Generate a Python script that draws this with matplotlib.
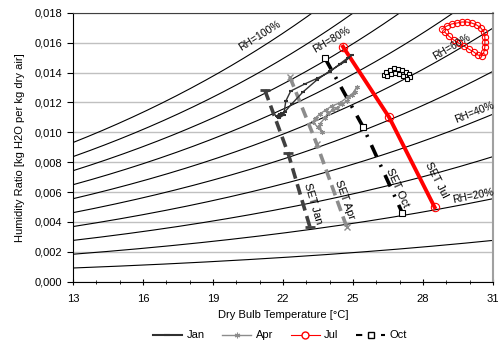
import numpy as np
import matplotlib
matplotlib.use("Agg")
import matplotlib.pyplot as plt
from matplotlib.ticker import FuncFormatter, MultipleLocator, FixedLocator
from matplotlib.lines import Line2D

plt.rcParams['font.family'] = ['Liberation Sans', 'DejaVu Sans']

# hourly points per month (dry bulb [C], humidity ratio [kg/kg])
jan_t = [21.77, 21.86, 21.73, 21.95, 21.82, 22.03, 22.12, 22.33, 22.93, 23.49, 24.00,
         24.43, 24.77, 24.95, 24.64, 24.00, 23.45, 22.85, 22.37, 22.07, 21.86]
jan_w = [0.01102, 0.01122, 0.01109, 0.01129, 0.01095, 0.01115, 0.01209, 0.01276, 0.01323,
         0.01363, 0.01403, 0.01457, 0.01497, 0.01517, 0.01471, 0.01410, 0.01350, 0.01269,
         0.01189, 0.01135, 0.01109]

apr_t = [23.40, 23.27, 23.49, 23.66, 23.57, 23.79, 23.92, 24.13, 24.30, 24.52, 24.73,
         24.95, 25.16, 25.07, 24.77, 24.43, 24.09, 23.83, 23.57, 23.36]
apr_w = [0.01095, 0.01069, 0.01035, 0.01002, 0.01055, 0.01095, 0.01129, 0.01149, 0.01162,
         0.01189, 0.01209, 0.01249, 0.01303, 0.01269, 0.01236, 0.01196, 0.01176, 0.01149,
         0.01122, 0.01089]

jul_t = [28.80, 29.02, 29.23, 29.45, 29.66, 29.88, 30.09, 30.30, 30.48, 30.61, 30.65, 30.65,
         30.65, 30.61, 30.52, 30.35, 30.18, 29.96, 29.75, 29.53, 29.32, 29.10, 28.93]
jul_w = [0.01691, 0.01711, 0.01725, 0.01731, 0.01738, 0.01738, 0.01731, 0.01718, 0.01698,
         0.01671, 0.01637, 0.01604, 0.01570, 0.01537, 0.01510, 0.01517, 0.01537, 0.01557,
         0.01577, 0.01597, 0.01617, 0.01644, 0.01671]

oct_t = [26.32, 26.40, 26.57, 26.74, 26.92, 27.09, 27.26, 27.39, 27.43, 27.30, 27.13, 26.96,
         26.79, 26.62, 26.45]
oct_w = [0.01383, 0.01403, 0.01417, 0.01430, 0.01423, 0.01417, 0.01403, 0.01390, 0.01370,
         0.01356, 0.01376, 0.01390, 0.01396, 0.01390, 0.01376]

# SET lines
set_jan_t = [21.22, 22.22, 23.15]
set_jan_w = [0.01283, 0.00859, 0.00368]
set_apr_t = [22.29, 23.45, 24.73]
set_apr_w = [0.01372, 0.00921, 0.00366]
set_oct_t = [23.80, 25.43, 27.12]
set_oct_w = [0.01496, 0.01037, 0.00458]
set_jul_t = [24.57, 26.55, 28.50]
set_jul_w = [0.01573, 0.01100, 0.00498]

rh_levels = [10, 20, 30, 40, 50, 60, 70, 80, 90, 100]
rh_labels = ["RH=100%", "RH=80%", "RH=60%", "RH=40%", "RH=20%"]
rh_label_pos = [(21.0, 0.01644), (24.1, 0.01617), (29.25, 0.01572), (30.2, 0.01135), (30.15, 0.00573)]

set_labels = ["SET Jan", "SET Apr", "SET Oct", "SET Jul"]
set_label_pos = [(23.27, 0.00525), (24.65, 0.00547), (26.92, 0.00627), (28.59, 0.00680)]

x_ticks = [13, 16, 19, 22, 25, 28, 31]


def w_of(t, rh):
    ps = 0.61094 * np.exp(17.625 * t / (t + 243.04))
    pw = rh / 100.0 * ps
    return 0.622 * pw / (101.325 - pw)


fig = plt.figure(figsize=(5.0, 3.44), dpi=100)
ax = fig.add_axes([0.146, 0.181, 0.84, 0.782])

tt = np.linspace(13, 31, 200)
for rh in rh_levels:
    ax.plot(tt, w_of(tt, rh), color='black', lw=0.8, zorder=2)

ax.plot(set_jan_t, set_jan_w, color='#404040', lw=2.6, ls=(0, (3, 1.6)), marker='_', ms=7, mew=2, zorder=3)
ax.plot(set_apr_t, set_apr_w, color='#8c8c8c', lw=2.6, ls=(0, (3, 1.6)), marker='x', ms=5, mew=1, zorder=3)
ax.plot(set_oct_t, set_oct_w, color='black', lw=2.6, ls=(0, (3.5, 2.5, 0.6, 2.5)), marker='s', ms=4,
        mfc='white', mec='black', mew=0.8, zorder=3)
ax.plot(set_jul_t, set_jul_w, color='#ff0000', lw=2.8, marker='o', ms=6, mfc='none', mec='#ff0000',
        mew=0.8, zorder=3)

ax.plot(jan_t, jan_w, color='#303030', lw=1.0, marker='_', ms=3, mew=1.5, zorder=4)
ax.plot(apr_t, apr_w, color='#8c8c8c', lw=1.0, marker=(6, 2, 0), ms=3.5, mew=0.8, zorder=4)
ax.plot(jul_t, jul_w, color='#ff0000', lw=0.8, marker='o', ms=4.5, mfc='none', mec='#ff0000', mew=0.8, zorder=4)
ax.plot(oct_t, oct_w, color='black', lw=0.8, ls='--', marker='s', ms=3.5, mfc='white', mec='black',
        mew=0.8, zorder=4)

ax.set_xlim(13, 31)
ax.set_ylim(0, 0.018)

# labels on RH curves, rotated to follow the curves
for (x, y), txt in zip(rh_label_pos, rh_labels):
    lvl = int(txt[3:-1])
    p1 = ax.transData.transform((x - 0.3, w_of(x - 0.3, lvl)))
    p2 = ax.transData.transform((x + 0.3, w_of(x + 0.3, lvl)))
    ang = np.degrees(np.arctan2(p2[1] - p1[1], p2[0] - p1[0]))
    ax.text(x, y, txt, fontsize=7.5, ha='center', va='center', rotation=ang, rotation_mode='anchor', zorder=5)

set_lines = [(set_jan_t, set_jan_w), (set_apr_t, set_apr_w), (set_oct_t, set_oct_w), (set_jul_t, set_jul_w)]
for (st, sw), (x, y), txt in zip(set_lines, set_label_pos, set_labels):
    p1 = ax.transData.transform((st[1], sw[1]))
    p2 = ax.transData.transform((st[2], sw[2]))
    ang = np.degrees(np.arctan2(p2[1] - p1[1], p2[0] - p1[0]))
    ax.text(x, y, txt, fontsize=8, ha='center', va='center', rotation=ang, rotation_mode='anchor', zorder=5)

ax.yaxis.set_major_locator(MultipleLocator(0.002))
ax.yaxis.set_major_formatter(FuncFormatter(lambda v, p: ('%.3f' % v).replace('.', ',')))
ax.xaxis.set_major_locator(FixedLocator(x_ticks))
ax.xaxis.set_minor_locator(MultipleLocator(1))
ax.grid(axis='y', color='#c0c0c0', lw=1.0, zorder=0)
ax.tick_params(axis='x', which='both', direction='inout', labelsize=8, pad=6)
ax.tick_params(axis='x', which='major', length=5)
ax.tick_params(axis='x', which='minor', length=3)
ax.tick_params(axis='y', direction='out', length=4, labelsize=8)
ax.spines['top'].set_color('#404040')
ax.spines['right'].set_color('#a0a0a0')
ax.spines['right'].set_linewidth(1.5)
ax.set_axisbelow(True)

ax.set_xlabel('Dry Bulb Temperature [°C]', fontsize=8, labelpad=5)
ax.set_ylabel('Humidity Ratio [kg H2O per kg dry air]', fontsize=8, labelpad=7)

handles = [
    Line2D([], [], color='#303030', lw=1.5, marker='_', ms=5, mew=1.5),
    Line2D([], [], color='#8c8c8c', lw=1.0, marker=(6, 2, 0), ms=4, mew=0.8),
    Line2D([], [], color='#ff0000', lw=0.8, marker='o', ms=5, mfc='white', mec='#ff0000'),
    Line2D([], [], color='black', lw=1.5, ls=(0, (3, 3)), marker='s', ms=4, mfc='white', mec='black'),
]
fig.legend(handles, ['Jan', 'Apr', 'Jul', 'Oct'], loc='center', bbox_to_anchor=(0.56, 0.025), ncol=4,
           frameon=False, fontsize=8, handlelength=2.6, columnspacing=1.6, handletextpad=0.4)

fig.savefig('out.png', dpi=100)
